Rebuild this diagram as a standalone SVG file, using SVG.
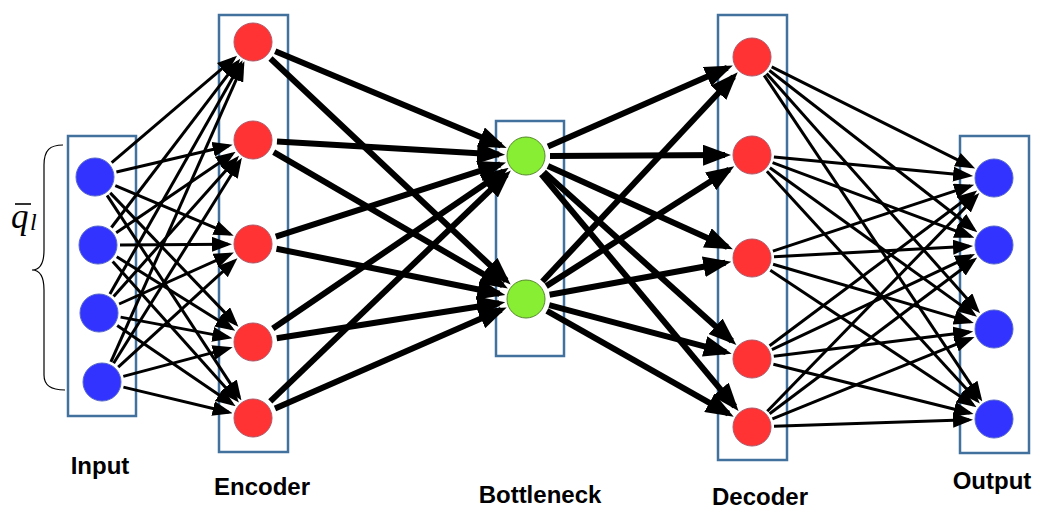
<svg xmlns="http://www.w3.org/2000/svg" width="1058" height="514" viewBox="0 0 1058 514">
<style>
.box{fill:none;stroke:#41719c;stroke-width:2.5}
.red{fill:#ff3333;stroke:#b05565;stroke-width:1}
.blue{fill:#3333ff;stroke:#5566cc;stroke-width:1}
.green{fill:#88ee33;stroke:#55882a;stroke-width:1}
.thin{stroke:#000;stroke-width:3;fill:none;marker-end:url(#ah)}
.thick{stroke:#000;stroke-width:6;fill:none;marker-end:url(#ahb)}
.lbl{font-family:"Liberation Sans",Arial,sans-serif;font-weight:bold;font-size:24px;fill:#000;text-anchor:middle}
</style>
<defs>
<marker id="ah" markerUnits="userSpaceOnUse" markerWidth="20" markerHeight="15" refX="16" refY="7.5" orient="auto"><path d="M0,0 L20,7.5 L0,15 z" fill="#000"/></marker>
<marker id="ahb" markerUnits="userSpaceOnUse" markerWidth="28" markerHeight="21" refX="22" refY="10.5" orient="auto"><path d="M0,0 L28,10.5 L0,21 z" fill="#000"/></marker>
</defs>
<rect width="1058" height="514" fill="#fff"/>
<g id="layers">
<rect class="box" x="68" y="136" width="68" height="280"/>
<rect class="box" x="219" y="15" width="69" height="437"/>
<rect class="box" x="496" y="121" width="68" height="235"/>
<rect class="box" x="718" y="15" width="69" height="445"/>
<rect class="box" x="960" y="136" width="69" height="317"/>
</g>
<g id="brace">
<path d="M63,145 C50,145 44,150 44,165 L44,250 C44,263 40,270 32,270 C40,270 44,277 44,290 L44,375 C44,385 50,390 65,390" fill="none" stroke="#000" stroke-width="1.2"/>
<line x1="15" y1="204" x2="31" y2="204" stroke="#000" stroke-width="1.6"/>
<text x="11" y="228" font-family="'Liberation Serif',serif" font-style="italic" font-size="35">q</text>
<text x="30" y="230" font-family="'Liberation Serif',serif" font-style="italic" font-size="24">l</text>
</g>
<g id="connectors">
<path class="thin" d="M111.7,162.7 L234.0,58.3"/>
<path class="thin" d="M116.4,172.0 L228.7,145.7"/>
<path class="thin" d="M115.3,185.6 L230.0,234.2"/>
<path class="thin" d="M110.2,192.9 L235.7,323.9"/>
<path class="thin" d="M107.1,195.4 L239.3,397.1"/>
<path class="thin" d="M111.4,227.5 L237.8,61.9"/>
<path class="thin" d="M116.2,232.7 L232.3,154.0"/>
<path class="thin" d="M120,244.9 L228,244.2"/>
<path class="thin" d="M116.7,256.7 L231.8,328.7"/>
<path class="thin" d="M112.7,261.4 L236.3,399.4"/>
<path class="thin" d="M109.9,293.9 L240.6,63.7"/>
<path class="thin" d="M113.6,296.6 L236.4,158.7"/>
<path class="thin" d="M119.1,304.0 L230.2,254.2"/>
<path class="thin" d="M120.6,317.1 L228.4,337.4"/>
<path class="thin" d="M117.2,325.4 L232.3,403.9"/>
<path class="thin" d="M110.9,361.9 L242.8,64.9"/>
<path class="thin" d="M113.6,363.3 L239.8,161.2"/>
<path class="thin" d="M118.2,367.2 L234.5,260.9"/>
<path class="thin" d="M123.3,376.4 L228.8,348.4"/>
<path class="thin" d="M123.4,387.1 L228.7,412.2"/>
<path class="thick" d="M275.2,51.2 L501.1,145.6"/>
<path class="thick" d="M270.5,58.5 L506.3,280.5"/>
<path class="thick" d="M277,141.4 L499.1,154.4"/>
<path class="thick" d="M273.7,152.1 L502.7,285.4"/>
<path class="thick" d="M275.8,236.6 L500.3,164.3"/>
<path class="thick" d="M276.5,248.7 L499.5,293.7"/>
<path class="thick" d="M272.8,328.5 L503.7,171.2"/>
<path class="thick" d="M276.7,338.3 L499.3,303.2"/>
<path class="thick" d="M270.3,401.4 L506.5,174.7"/>
<path class="thick" d="M275.0,408.4 L501.2,309.8"/>
<path class="thick" d="M548.0,146.4 L727.3,67.8"/>
<path class="thick" d="M550,155.9 L725,155.1"/>
<path class="thick" d="M547.9,165.9 L727.4,246.9"/>
<path class="thick" d="M543.9,172.0 L731.9,341.0"/>
<path class="thick" d="M541.4,174.4 L734.7,406.3"/>
<path class="thick" d="M542.4,281.5 L733.6,76.7"/>
<path class="thick" d="M546.2,286.1 L729.2,169.5"/>
<path class="thick" d="M549.6,294.7 L725.4,262.8"/>
<path class="thick" d="M549.2,305.2 L725.9,352.1"/>
<path class="thick" d="M546.9,310.8 L728.5,413.7"/>
<path class="thin" d="M771.7,66.8 L971.6,166.8"/>
<path class="thin" d="M769.4,70.5 L974.2,229.7"/>
<path class="thin" d="M766.6,73.4 L977.4,310.3"/>
<path class="thin" d="M764.2,75.3 L980.1,398.2"/>
<path class="thin" d="M773.9,157.1 L969.1,175.6"/>
<path class="thin" d="M772.6,162.7 L970.6,236.3"/>
<path class="thin" d="M769.9,167.8 L973.7,314.4"/>
<path class="thin" d="M766.9,171.2 L977.1,400.6"/>
<path class="thin" d="M772.9,251.1 L970.3,185.9"/>
<path class="thin" d="M774.0,256.8 L969.0,246.3"/>
<path class="thin" d="M773.1,264.2 L970.0,321.9"/>
<path class="thin" d="M770.3,270.2 L973.2,405.1"/>
<path class="thin" d="M769.6,345.8 L974.0,193.0"/>
<path class="thin" d="M771.9,349.6 L971.4,255.7"/>
<path class="thin" d="M773.8,356.3 L969.2,332.1"/>
<path class="thin" d="M773.4,364.3 L969.7,413.0"/>
<path class="thin" d="M767.3,411.2 L976.6,195.9"/>
<path class="thin" d="M769.6,413.8 L974.0,260.0"/>
<path class="thin" d="M772.4,418.8 L970.8,338.4"/>
<path class="thin" d="M774.0,426.3 L969.0,419.8"/>
</g>
<g id="in1"><circle class="blue" cx="95" cy="177" r="19"/></g>
<g id="in2"><circle class="blue" cx="98" cy="245" r="19"/></g>
<g id="in3"><circle class="blue" cx="99" cy="313" r="19"/></g>
<g id="in4"><circle class="blue" cx="102" cy="382" r="19"/></g>
<g id="enc1"><circle class="red" cx="253" cy="42" r="19"/></g>
<g id="enc2"><circle class="red" cx="253" cy="140" r="19"/></g>
<g id="enc3"><circle class="red" cx="253" cy="244" r="19"/></g>
<g id="enc4"><circle class="red" cx="253" cy="342" r="19"/></g>
<g id="enc5"><circle class="red" cx="253" cy="418" r="19"/></g>
<g id="bot1"><circle class="green" cx="526" cy="156" r="19"/></g>
<g id="bot2"><circle class="green" cx="526" cy="299" r="19"/></g>
<g id="dec1"><circle class="red" cx="752" cy="57" r="19"/></g>
<g id="dec2"><circle class="red" cx="752" cy="155" r="19"/></g>
<g id="dec3"><circle class="red" cx="752" cy="258" r="19"/></g>
<g id="dec4"><circle class="red" cx="752" cy="359" r="19"/></g>
<g id="dec5"><circle class="red" cx="752" cy="427" r="19"/></g>
<g id="out1"><circle class="blue" cx="994" cy="178" r="19"/></g>
<g id="out2"><circle class="blue" cx="994" cy="245" r="19"/></g>
<g id="out3"><circle class="blue" cx="994" cy="329" r="19"/></g>
<g id="out4"><circle class="blue" cx="994" cy="419" r="19"/></g>
<g id="labels">
<text class="lbl" x="100" y="474">Input</text>
<text class="lbl" x="262" y="495">Encoder</text>
<text class="lbl" x="540" y="503">Bottleneck</text>
<text class="lbl" x="760" y="505">Decoder</text>
<text class="lbl" x="992" y="489">Output</text>
</g>
</svg>
